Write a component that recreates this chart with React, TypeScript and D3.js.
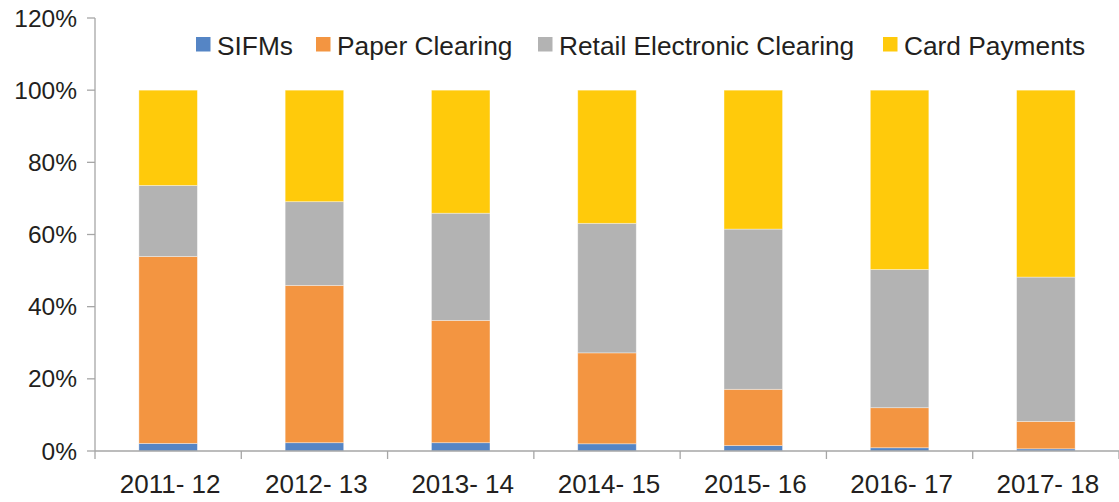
import React from "react";
import * as d3 from "d3";

const categories = ["2011- 12", "2012- 13", "2013- 14", "2014- 15", "2015- 16", "2016- 17", "2017- 18"];
const seriesNames = ["SIFMs", "Paper Clearing", "Retail Electronic Clearing", "Card Payments"];
const sifms = [2.1, 2.3, 2.3, 2.0, 1.5, 0.9, 0.6];
const paperClearing = [51.8, 43.6, 33.9, 25.2, 15.6, 11.1, 7.6];
const retailElectronic = [19.7, 23.2, 29.7, 35.9, 44.4, 38.3, 40.0];
const cardPayments = [26.4, 30.9, 34.1, 36.9, 38.5, 49.7, 51.8];
const yTicks = [0, 0.2, 0.4, 0.6, 0.8, 1.0, 1.2];
const colors = ["#5585c5", "#f39541", "#b3b3b3", "#ffca0b"];

const W = 1119;
const H = 502;
const FONT = "'Liberation Sans', Arial, Helvetica, sans-serif";

export default function App() {
  const x = d3.scaleBand<string>().domain(categories).range([95, 1119]).paddingInner(0.6).paddingOuter(0.3);
  const y = d3.scaleLinear().domain([0, 1.2]).range([451, 18]);

  const rows = categories.map((c, i) => ({
    cat: c,
    s0: sifms[i],
    s1: paperClearing[i],
    s2: retailElectronic[i],
    s3: cardPayments[i],
  }));
  const stack = d3.stack<any>().keys(["s0", "s1", "s2", "s3"]).offset(d3.stackOffsetExpand);
  const layers = stack(rows);

  const step = x.step();
  const boundaries = categories.map((_, i) => 95 + i * step).concat([1119]);

  const legendSquares = [196, 316, 538, 883];
  const legendTexts = [217, 337, 559, 904];

  return (
    <svg width={W} height={H} style={{ position: "absolute", left: 0, top: 0, background: "#fff" }} fontFamily={FONT}>
      {layers.map((layer, li) => (
        <g key={li} fill={colors[li]}>
          {layer.map((d, i) => (
            <rect
              key={i}
              x={x(categories[i])}
              width={x.bandwidth()}
              y={y(d[1])}
              height={y(d[0]) - y(d[1])}
              stroke="#ffffff"
              strokeOpacity={0.45}
              strokeWidth={0.8}
            />
          ))}
        </g>
      ))}
      {/* y axis */}
      <line x1={95} x2={95} y1={y(1.2)} y2={y(0)} stroke="#a6a6a6" strokeWidth={1.3} />
      {yTicks.map((t) => (
        <g key={t}>
          <line x1={87} x2={95} y1={y(t)} y2={y(t)} stroke="#a6a6a6" strokeWidth={1.3} />
          <text x={77} y={y(t)} dy="0.35em" textAnchor="end" fontSize={24.5} fill="#231f20">
            {d3.format(".0%")(t)}
          </text>
        </g>
      ))}
      {/* x axis */}
      <line x1={95} x2={1119} y1={y(0)} y2={y(0)} stroke="#a6a6a6" strokeWidth={1.3} />
      {boundaries.map((b, i) => (
        <line key={i} x1={b} x2={b} y1={y(0)} y2={y(0) + 8} stroke="#a6a6a6" strokeWidth={1.3} />
      ))}
      {categories.map((c) => (
        <text key={c} x={(x(c) as number) + x.bandwidth() / 2 + 2} y={493} textAnchor="middle" fontSize={26} fill="#231f20">
          {c}
        </text>
      ))}
      {/* legend */}
      {seriesNames.map((n, i) => (
        <g key={n}>
          <rect x={legendSquares[i]} y={37} width={14.5} height={14.5} fill={colors[i]} />
          <text x={legendTexts[i]} y={55} fontSize={26.3} fill="#231f20">
            {n}
          </text>
        </g>
      ))}
    </svg>
  );
}
